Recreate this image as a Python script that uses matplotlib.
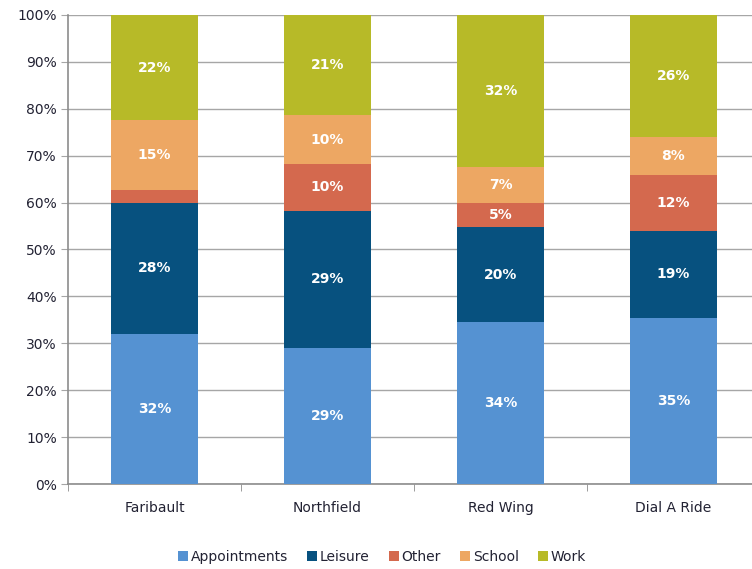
import matplotlib.pyplot as plt
import numpy as np

plt.rcParams["font.family"] = ["DejaVu Sans"]

sites = ["Faribault", "Northfield", "Red Wing", "Dial A Ride"]
purposes = ["Appointments", "Leisure", "Other", "School", "Work"]

appointments = [32.0, 29.1, 34.5, 35.4]
leisure = [28.0, 29.2, 20.3, 18.6]
other = [2.6, 10.0, 5.2, 11.8]
school = [15.0, 10.3, 7.5, 8.2]
work = [22.4, 21.4, 32.5, 26.0]

label_text = {
    "Appointments": ["32%", "29%", "34%", "35%"],
    "Leisure": ["28%", "29%", "20%", "19%"],
    "Other": ["", "10%", "5%", "12%"],
    "School": ["15%", "10%", "7%", "8%"],
    "Work": ["22%", "21%", "32%", "26%"],
}

colors = ["#5592D2", "#07517F", "#D4694E", "#EDA763", "#B7BA28"]
series = [appointments, leisure, other, school, work]

fig = plt.figure(figsize=(7.52, 5.69), dpi=100)
ax = fig.add_axes([68 / 752, 85 / 569, 692 / 752, 469 / 569])

x = np.arange(len(sites))
bottom = np.zeros(len(sites))
for name, vals, col in zip(purposes, series, colors):
    vals = np.array(vals)
    ax.bar(x, vals, 0.5, bottom=bottom, color=col, label=name, zorder=3)
    for xi, b, v, t in zip(x, bottom, vals, label_text[name]):
        if t:
            ax.text(xi, b + v / 2, t, ha="center", va="center", color="white",
                    fontsize=10, fontweight="bold", zorder=4)
    bottom += vals

ax.set_xlim(-0.5, 3.5)
ax.set_ylim(0, 100)
ax.set_yticks(np.arange(0, 101, 10))
ax.set_yticklabels([f"{v}%" for v in range(0, 101, 10)])
ax.yaxis.grid(True, color="#A6A6A6", linewidth=1, zorder=0)
ax.set_xticks(x)
ax.set_xticklabels(sites)
ax.set_xticks(np.arange(-0.5, 4, 1), minor=True)
ax.tick_params(axis="x", which="major", length=0, pad=12, labelsize=10)
ax.tick_params(axis="x", which="minor", length=5, color="#8C8C8C", direction="out")
ax.tick_params(axis="y", length=5, color="#A6A6A6", labelsize=10, pad=3)
for lbl in ax.get_xticklabels() + ax.get_yticklabels():
    lbl.set_color("#222233")

for s in ["top", "right"]:
    ax.spines[s].set_visible(False)
ax.spines["left"].set_color("#8C8C8C")
ax.spines["bottom"].set_color("#8C8C8C")
ax.spines["left"].set_linewidth(1.2)
ax.spines["bottom"].set_linewidth(1.2)

fig.legend(loc="center", bbox_to_anchor=(382 / 752, 12 / 569), ncol=5, frameon=False,
           fontsize=10, handlelength=0.7, handleheight=0.7, handletextpad=0.2,
           columnspacing=1.4, labelcolor="#222233")

fig.savefig("out.png", dpi=100)
